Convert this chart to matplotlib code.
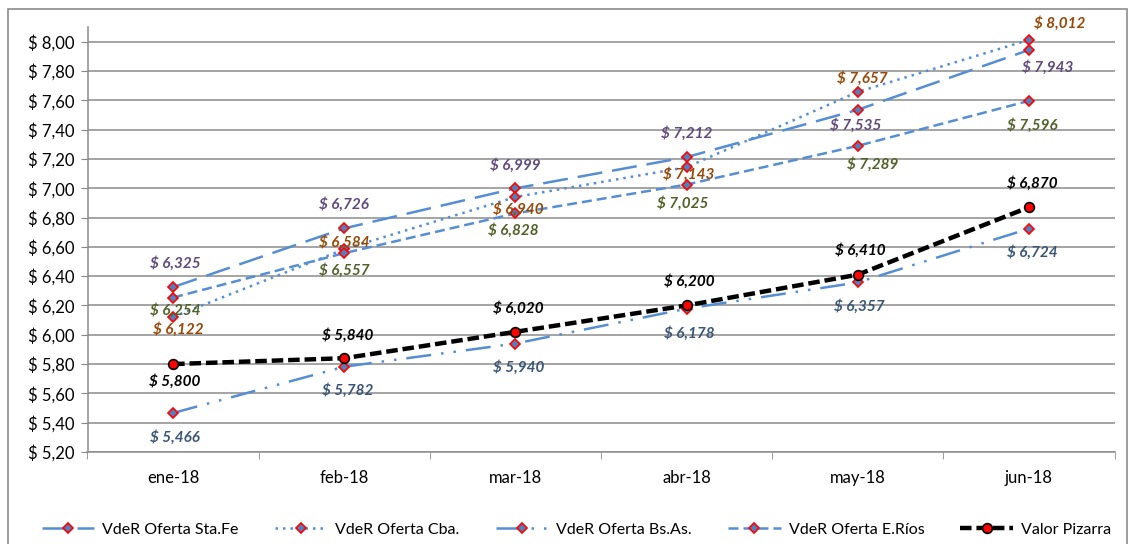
import numpy as np
import matplotlib
matplotlib.use("Agg")
import matplotlib.pyplot as plt
from matplotlib.ticker import FuncFormatter, FixedLocator
from matplotlib.patches import Rectangle

meses = ["ene-18", "feb-18", "mar-18", "abr-18", "may-18", "jun-18"]

sta_fe = [6.325, 6.726, 6.999, 7.212, 7.535, 7.943]
cba = [6.122, 6.584, 6.940, 7.143, 7.657, 8.012]
bs_as = [5.466, 5.782, 5.940, 6.178, 6.357, 6.724]
e_rios = [6.254, 6.557, 6.828, 7.025, 7.289, 7.596]
pizarra = [5.800, 5.840, 6.020, 6.200, 6.410, 6.870]

nombres = ["VdeR Oferta Sta.Fe", "VdeR Oferta Cba.", "VdeR Oferta Bs.As.",
           "VdeR Oferta E.Ríos", "Valor Pizarra"]

# desplazamiento de etiquetas (pixeles)
off_sta_fe = [(2, 24), (0, 24), (0, 23), (0, 24), (-2, -16), (19, -17)]
off_cba = [(5, -13), (0, 7), (3, -12), (2, -7), (5, 13), (31, 16)]
off_bs_as = [(2, -24), (3, -24), (3, -24), (3, -25), (2, -24), (3, -24)]
off_e_rios = [(2, -13), (0, -17), (-2, -17), (-4, -19), (15, -19), (3, -25)]
off_pizarra = [(2, -17), (3, 23), (3, 23), (3, 24), (3, 24), (3, 24)]

AZUL = "#558ED5"

plt.rcParams["font.family"] = ["Lato", "DejaVu Sans"]

fig = plt.figure(figsize=(11.35, 5.44), dpi=100)
ax = fig.add_axes([87.5 / 1135, 1 - 452 / 544, 1027 / 1135, 425 / 544])

x = np.arange(len(meses))

series = [
    (sta_fe, (0, (10, 4)), "#604A7B", off_sta_fe),
    (cba, (0, (1, 2)), "#984807", off_cba),
    (bs_as, (0, (10, 4, 1, 4, 1, 4)), "#3A5577", off_bs_as),
    (e_rios, (0, (4, 2)), "#4F6228", off_e_rios),
]

for (vals, ls, col, offs), nom in zip(series, nombres[:4]):
    ax.plot(x, vals, linestyle=ls, color=AZUL, lw=1.8, marker="D",
            markersize=5.5, markerfacecolor="#4F81BD", markeredgecolor="red",
            markeredgewidth=1.2, label=nom, zorder=3)
    for xi, v, o in zip(x, vals, offs):
        ax.annotate("$ " + f"{v:.3f}".replace(".", ","), (xi, v), xytext=o,
                    textcoords="offset pixels", ha="center", va="center",
                    fontsize=11, fontweight="bold", fontstyle="italic", color=col,
                    zorder=5)

ax.plot(x, pizarra, linestyle=(0, (2.6, 1.1)), color="black", lw=3.2, marker="o",
        markersize=7, markerfacecolor="red", markeredgecolor="black",
        markeredgewidth=1.2, label=nombres[4], zorder=4)
for xi, v, o in zip(x, pizarra, off_pizarra):
    ax.annotate("$ " + f"{v:.3f}".replace(".", ","), (xi, v), xytext=o,
                textcoords="offset pixels", ha="center", va="center",
                fontsize=11, fontweight="bold", fontstyle="italic", color="black",
                zorder=5)

ax.set_xlim(-0.5, 5.5)
ax.set_ylim(5.2, 8.1)
ax.set_yticks(np.arange(5.2, 8.01, 0.2))
ax.yaxis.set_major_formatter(FuncFormatter(lambda v, p: "$ " + f"{v:.2f}".replace(".", ",")))
ax.set_xticks(x)
ax.set_xticklabels(meses)
ax.xaxis.set_minor_locator(FixedLocator(np.arange(-0.5, 5.6, 1.0)))
ax.tick_params(axis="x", which="major", length=0, pad=13, labelsize=12)
ax.tick_params(axis="x", which="minor", length=5, color="#888888")
ax.tick_params(axis="y", length=5, color="#888888", labelsize=12, pad=4)

ax.grid(axis="y", color="#8C8C8C", lw=1.1)
ax.set_axisbelow(True)
for s in ["top", "right"]:
    ax.spines[s].set_visible(False)
for s in ["left", "bottom"]:
    ax.spines[s].set_color("#8C8C8C")
    ax.spines[s].set_linewidth(1.1)

ax.legend(loc="center", bbox_to_anchor=(0.476, -0.183), ncol=5, frameon=False,
          fontsize=11.5, handlelength=3.3, columnspacing=2.25, handletextpad=0.5)

fig.patches.append(Rectangle((8 / 1135, -0.02), 1119 / 1135, 1 - 9 / 544 + 0.02,
                             transform=fig.transFigure, fill=False,
                             edgecolor="#8C8C8C", lw=1.2))

fig.savefig("out.png", dpi=100)
